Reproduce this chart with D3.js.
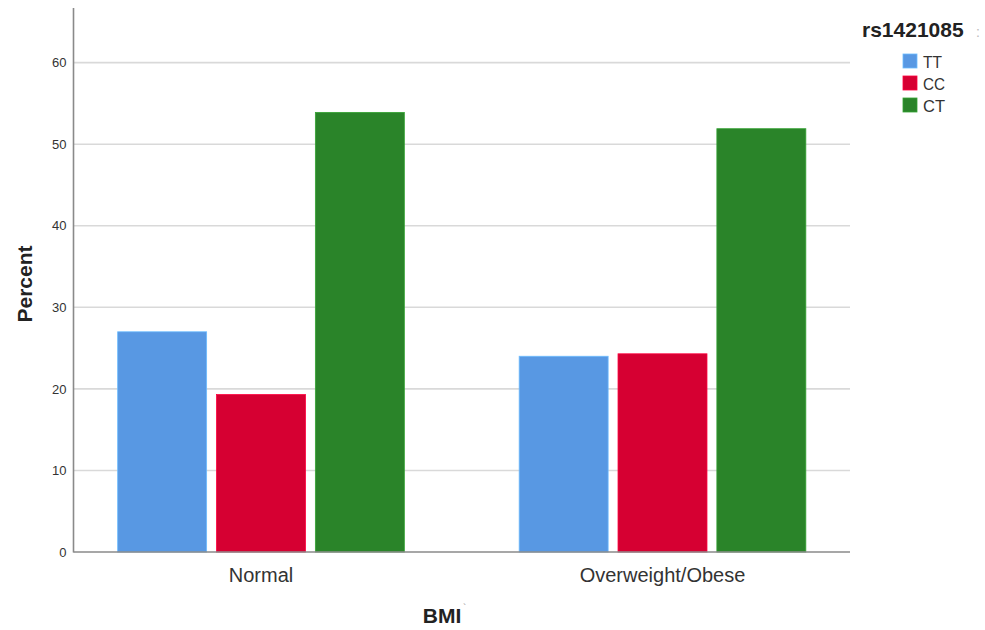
<!DOCTYPE html>
<html><head><meta charset="utf-8">
<script src="https://cdn.jsdelivr.net/npm/d3@7"></script>
<style>body{margin:0;background:#fff}svg{display:block}</style>
</head><body>
<svg id="c" width="985" height="630"></svg>
<script>
const categories = ["Normal", "Overweight/Obese"];
const seriesNames = ["TT", "CC", "CT"];
const TT = [27.0, 24.0];
const CC = [19.3, 24.3];
const CT = [53.9, 51.9];
const yTicks = [0, 10, 20, 30, 40, 50, 60];
const colors = ["#5898e3", "#d60032", "#2a8429"];
const values = {TT, CC, CT};

const FONT = "Liberation Sans, Arial, sans-serif";
const svg = d3.select("#c");
const mLeft = 73.5, mRight = 850, mTop = 8, mBottom = 552;
const y = d3.scaleLinear().domain([0, 66.7]).range([mBottom, mTop]);
const x0 = d3.scaleBand().domain(categories).range([mLeft, mRight]).paddingInner(0.286).paddingOuter(0.11);
const x1 = d3.scaleBand().domain(seriesNames).range([0, x0.bandwidth()]).paddingInner(0.1).paddingOuter(0);
const color = d3.scaleOrdinal().domain(seriesNames).range(colors);

// grid
svg.append("g").selectAll("line").data(yTicks.filter(d => d > 0)).join("line")
  .attr("x1", mLeft).attr("x2", mRight)
  .attr("y1", d => y(d)).attr("y2", d => y(d))
  .attr("stroke", "#d9d9d9").attr("stroke-width", 1.6);

// bars
const g = svg.append("g");
categories.forEach((c, i) => {
  seriesNames.forEach(s => {
    const v = values[s][i];
    g.append("rect")
      .attr("x", x0(c) + x1(s)).attr("width", x1.bandwidth())
      .attr("y", y(v)).attr("height", y(0) - y(v))
      .attr("fill", color(s)).attr("stroke", d3.color(color(s)).brighter(0.6)).attr("stroke-width", 0.8);
  });
});

// y axis
const yAxis = d3.axisLeft(y).tickValues(yTicks).tickSize(0).tickPadding(7);
const ya = svg.append("g").attr("transform", `translate(${mLeft},0)`).call(yAxis);
ya.select(".domain").remove();
ya.selectAll("text").attr("font-family", FONT).attr("font-size", 13).attr("fill", "#333");
svg.append("line").attr("x1", mLeft).attr("x2", mLeft).attr("y1", mTop).attr("y2", mBottom + 0.5)
  .attr("stroke", "#8a8a8a").attr("stroke-width", 1.6);

// x axis
const xAxis = d3.axisBottom(x0).tickSize(0).tickPadding(16);
const xa = svg.append("g").attr("transform", `translate(0,${mBottom})`).call(xAxis);
xa.select(".domain").remove();
xa.selectAll("text").attr("font-family", FONT).attr("font-size", 20).attr("fill", "#333");
svg.append("line").attr("x1", mLeft).attr("x2", mRight).attr("y1", mBottom).attr("y2", mBottom)
  .attr("stroke", "#8a8a8a").attr("stroke-width", 1.6);

// axis titles
svg.append("text").attr("transform", "translate(32,284) rotate(-90)").attr("text-anchor", "middle")
  .attr("font-family", FONT).attr("font-size", 21).attr("font-weight", "bold").attr("fill", "#222")
  .text("Percent");
svg.append("text").attr("x", 442).attr("y", 623).attr("text-anchor", "middle")
  .attr("font-family", FONT).attr("font-size", 21).attr("font-weight", "bold").attr("fill", "#222")
  .text("BMI");
svg.append("text").attr("x", 463).attr("y", 612).attr("font-family", FONT)
  .attr("font-size", 10).attr("fill", "#999").text("`");

// legend
svg.append("text").attr("x", 862).attr("y", 37)
  .attr("font-family", FONT).attr("font-size", 21).attr("font-weight", "bold").attr("fill", "#222")
  .text("rs1421085");
svg.append("text").attr("x", 976).attr("y", 37).attr("font-family", FONT)
  .attr("font-size", 14).attr("fill", "#bbb").text(":");
const lg = svg.append("g").selectAll("g").data(seriesNames).join("g")
  .attr("transform", (d, i) => `translate(903,${54 + i * 22})`);
lg.append("rect").attr("width", 14).attr("height", 14).attr("fill", d => color(d))
  .attr("stroke", d => d3.color(color(d)).brighter(0.6)).attr("stroke-width", 0.8);
lg.append("text").attr("x", 20).attr("y", 14)
  .attr("font-family", FONT).attr("font-size", 16).attr("fill", "#333")
  .attr("textLength", d => d === "TT" ? 19 : 22).attr("lengthAdjust", "spacingAndGlyphs")
  .text(d => d);
</script>
</body></html>
